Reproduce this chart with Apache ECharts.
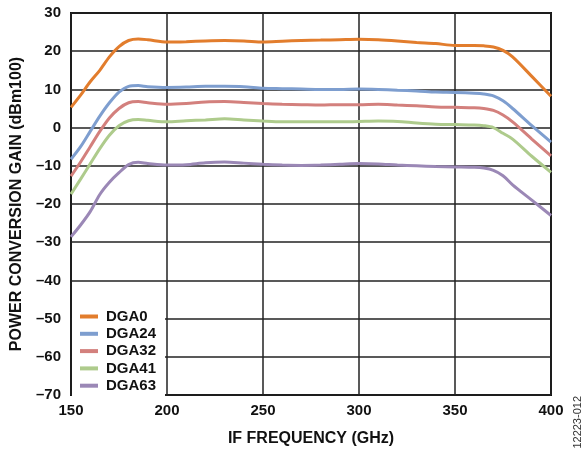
<!DOCTYPE html>
<html><head><meta charset="utf-8">
<script src="https://cdn.jsdelivr.net/npm/echarts@6/dist/echarts.min.js"></script>
<style>html,body{margin:0;padding:0;background:#fff}#c{width:584px;height:452px}</style>
</head><body><div id="c"></div>
<script>
const freq = [150,155,160,165,170,175,180,185,190,200,210,220,230,240,250,260,270,280,290,300,310,320,330,340,350,360,365,370,375,380,390,400];
const dga0  = [5.3,8.5,12,15,18.5,21.2,22.8,23.2,23,22.4,22.5,22.7,22.8,22.7,22.4,22.6,22.8,22.9,23,23.1,23,22.7,22.3,22,21.5,21.5,21.4,21.1,20.2,18.5,13.4,8.2];
const dga24 = [-8.3,-5,-1,3,6.5,9.3,10.8,11,10.7,10.5,10.6,10.8,10.8,10.7,10.3,10.2,10.1,10,10,10.1,10,9.8,9.6,9.3,9.2,9,8.8,8.3,7,5,0.5,-3.8];
const dga32 = [-12.7,-9,-5,-1,2.5,5,6.5,6.8,6.5,6.1,6.3,6.7,6.8,6.6,6.3,6.1,6,5.9,6,6,6.1,5.9,5.7,5.4,5.3,5.2,5,4.5,3.3,1.5,-3,-7.4];
const dga41 = [-17.4,-13.5,-9.5,-5.5,-2,0.5,1.8,2.1,1.9,1.5,1.8,2,2.3,2,1.7,1.5,1.5,1.5,1.5,1.6,1.7,1.6,1.2,0.9,0.8,0.7,0.5,0,-1.5,-3,-7.5,-11.7];
const dga63 = [-28.6,-25.5,-22,-17.5,-14.3,-11.8,-9.7,-9.1,-9.4,-9.8,-9.7,-9.2,-9,-9.3,-9.6,-9.8,-9.9,-9.8,-9.6,-9.4,-9.5,-9.8,-10,-10.2,-10.3,-10.4,-10.6,-11.2,-12.6,-15,-19,-23];
const seriesNames = ['DGA0','DGA24','DGA32','DGA41','DGA63'];
const seriesData = [dga0,dga24,dga32,dga41,dga63];
const colors = ['#E27D2D','#7E9ECF','#D3807D','#AECB8C','#9B88B6'];
const xTicks = [150,200,250,300,350,400];
const yTicks = [-70,-60,-50,-40,-30,-20,-10,0,10,20,30];

const chart = echarts.init(document.getElementById('c'));
const font = 'Liberation Sans, Arial, sans-serif';
chart.setOption({
  animation:false,
  grid:{left:71,top:13,right:33,bottom:55,show:true,borderColor:'#111',borderWidth:2,backgroundColor:'transparent'},
  xAxis:{type:'value',min:xTicks[0],max:xTicks[xTicks.length-1],interval:50,
    name:'IF FREQUENCY (GHz)',nameLocation:'middle',nameGap:36,
    nameTextStyle:{fontFamily:font,fontWeight:'bold',fontSize:16,color:'#111'},
    axisLine:{show:false},axisTick:{show:false},
    axisLabel:{fontFamily:font,fontWeight:'bold',fontSize:15,color:'#111',margin:8},
    splitLine:{show:true,lineStyle:{color:'#222',width:1.5}}},
  yAxis:{type:'value',min:yTicks[0],max:yTicks[yTicks.length-1],interval:10,
    name:'POWER CONVERSION GAIN (dBm100)',nameLocation:'middle',nameGap:44,nameRotate:90,
    nameTextStyle:{fontFamily:font,fontWeight:'bold',fontSize:16,color:'#111'},
    axisLine:{show:false},axisTick:{show:false},
    axisLabel:{fontFamily:font,fontWeight:'bold',fontSize:15,color:'#111',margin:10,
      formatter:v=>v<0?'\u2013'+Math.abs(v):String(v)},
    splitLine:{show:true,lineStyle:{color:'#222',width:1.5}}},
  legend:{orient:'vertical',left:72,top:306,icon:'rect',itemWidth:18,itemHeight:4,itemGap:2.3,
    backgroundColor:'#fff',padding:[3,9,3,8],
    textStyle:{fontFamily:font,fontWeight:'bold',fontSize:15,color:'#111',lineHeight:15,padding:[0,0,0,3]},
    data:seriesNames},
  series:seriesNames.map((n,i)=>({name:n,type:'line',smooth:0.3,symbol:'none',
    data:freq.map((f,j)=>[f,seriesData[i][j]]),
    lineStyle:{color:colors[i],width:3},itemStyle:{color:colors[i]},z:3})),
  graphic:[{type:'text',left:572,top:396,rotation:Math.PI/2,
    style:{text:'12223-012',fontFamily:font,fontSize:11,fill:'#333'}}]
});
</script></body></html>
